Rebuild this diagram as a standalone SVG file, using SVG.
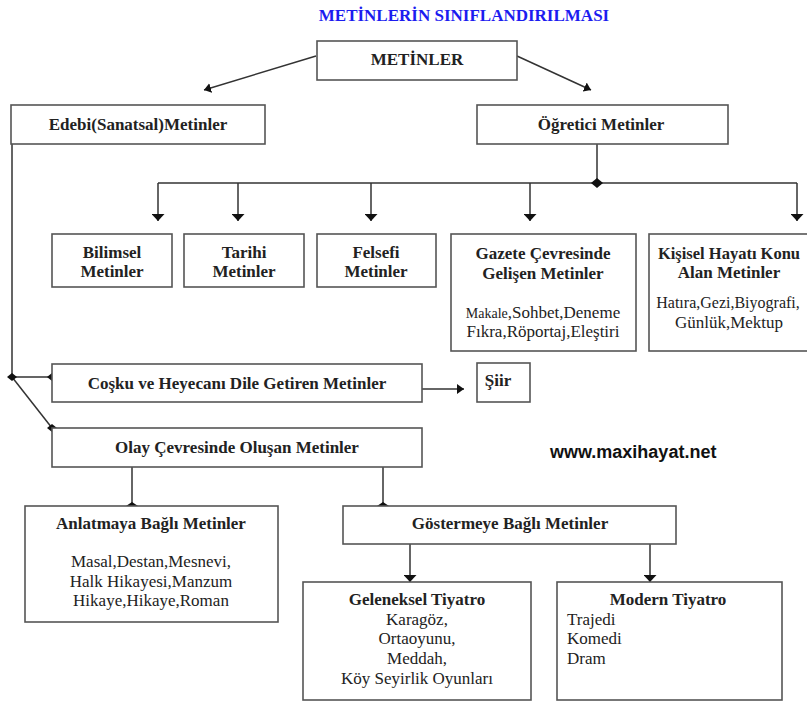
<svg xmlns="http://www.w3.org/2000/svg" width="807" height="702" viewBox="0 0 807 702">
<defs>
<style>
.box{fill:#fff;stroke:#555;stroke-width:1.6}
.ln{fill:none;stroke:#333;stroke-width:1.5}
.t{font-family:"Liberation Serif","Times New Roman",serif;font-size:17px;fill:#222}
.b{font-weight:bold}
.c{text-anchor:middle}
.dot{fill:#111}
</style>
<marker id="ah" viewBox="0 0 7 13" refX="7" refY="6.5" markerWidth="7" markerHeight="13" markerUnits="userSpaceOnUse" orient="auto">
<path d="M0,0 L7,6.5 L0,13 z" fill="#111"/>
</marker>
<marker id="ahs" viewBox="0 0 7 10" refX="7" refY="5" markerWidth="7" markerHeight="10" markerUnits="userSpaceOnUse" orient="auto">
<path d="M0,0 L7,5 L0,10 z" fill="#111"/>
</marker>
</defs>
<rect width="807" height="702" fill="#fff"/>
<text x="464" y="21" class="t b c" style="fill:#1c1cf0">METİNLERİN SINIFLANDIRILMASI</text>

<g id="connectors">
<line class="ln" x1="316" y1="56" x2="204" y2="90" marker-end="url(#ahs)"/>
<line class="ln" x1="517" y1="56" x2="591" y2="90" marker-end="url(#ahs)"/>
<polyline class="ln" points="597,144 597,183"/>
<polyline class="ln" points="158,183 797,183"/>
<line class="ln" x1="158" y1="183" x2="158" y2="221" marker-end="url(#ah)"/>
<line class="ln" x1="238" y1="183" x2="238" y2="221" marker-end="url(#ah)"/>
<line class="ln" x1="371" y1="183" x2="371" y2="221" marker-end="url(#ah)"/>
<line class="ln" x1="530" y1="183" x2="530" y2="221" marker-end="url(#ah)"/>
<line class="ln" x1="797" y1="183" x2="797" y2="221" marker-end="url(#ah)"/>
<polygon class="dot" points="597,178 603,183 597,188 591,183"/>
<polyline class="ln" points="12,144 12,377 52,377"/>
<line class="ln" x1="12" y1="377" x2="52" y2="428"/>
<polygon class="dot" points="12,373 17,377 12,381 7,377"/>
<polygon class="dot" points="52,373 57,377 52,381 47,377"/>
<polygon class="dot" points="52,424 57,428 52,432 47,428"/>
<line class="ln" x1="422" y1="389" x2="464" y2="389" marker-end="url(#ahs)"/>
<line class="ln" x1="132" y1="467" x2="132" y2="506"/>
<polygon class="dot" points="132,502 138,506 132,510 126,506"/>
<line class="ln" x1="383" y1="467" x2="383" y2="506"/>
<polygon class="dot" points="383,502 389,506 383,510 377,506"/>
<line class="ln" x1="410" y1="544" x2="410" y2="582" marker-end="url(#ah)"/>
<line class="ln" x1="650" y1="544" x2="650" y2="582" marker-end="url(#ah)"/>
</g>

<g id="metinler"><rect class="box" x="317" y="41" width="200" height="39"/><text x="417" y="65" class="t b c">METİNLER</text></g>
<g id="edebi"><rect class="box" x="11" y="105" width="254" height="39"/><text x="138" y="130" class="t b c">Edebi(Sanatsal)Metinler</text></g>
<g id="ogretici"><rect class="box" x="477" y="105" width="251" height="39"/><text x="601" y="130" class="t b c">Öğretici Metinler</text></g>

<g id="bilimsel"><rect class="box" x="52" y="234" width="120" height="53"/><text x="112" y="258" class="t b c">Bilimsel</text><text x="112" y="277" class="t b c">Metinler</text></g>
<g id="tarihi"><rect class="box" x="184" y="234" width="120" height="53"/><text x="244" y="258" class="t b c">Tarihi</text><text x="244" y="277" class="t b c">Metinler</text></g>
<g id="felsefi"><rect class="box" x="317" y="234" width="119" height="53"/><text x="376" y="258" class="t b c">Felsefi</text><text x="376" y="277" class="t b c">Metinler</text></g>
<g id="gazete"><rect class="box" x="451" y="234" width="185" height="117"/>
<text x="543" y="259" class="t b c">Gazete Çevresinde</text><text x="543" y="279" class="t b c">Gelişen Metinler</text>
<text x="543" y="318" class="t c"><tspan style="font-size:14px">Makale</tspan>,Sohbet,Deneme</text>
<text x="543" y="337" class="t c">Fıkra,Röportaj,Eleştiri</text></g>
<g id="kisisel"><rect class="box" x="649" y="234" width="166" height="117"/>
<text x="729" y="259" class="t b c" style="font-size:16.5px">Kişisel Hayatı Konu</text><text x="729" y="278" class="t b c">Alan Metinler</text>
<text x="728" y="308" class="t c" style="font-size:16px">Hatıra,Gezi,Biyografi,</text><text x="729" y="328" class="t c">Günlük,Mektup</text></g>

<g id="cosku"><rect class="box" x="52" y="364" width="370" height="38"/><text x="237" y="389" class="t b c">Coşku ve Heyecanı Dile Getiren Metinler</text></g>
<g id="siir"><rect class="box" x="477" y="363" width="53" height="39"/><text x="498" y="386" class="t b c">Şiir</text></g>
<g id="olay"><rect class="box" x="52" y="428" width="370" height="39"/><text x="237" y="453" class="t b c">Olay Çevresinde Oluşan Metinler</text></g>
<text x="550" y="458" style="font-family:'Liberation Sans',Arial,sans-serif;font-weight:bold;font-size:18px;fill:#111">www.maxihayat.net</text>

<g id="anlatmaya"><rect class="box" x="25" y="506" width="253" height="116"/>
<text x="151" y="529" class="t b c">Anlatmaya Bağlı Metinler</text>
<text x="151" y="567" class="t c">Masal,Destan,Mesnevi,</text>
<text x="151" y="587" class="t c">Halk Hikayesi,Manzum</text>
<text x="151" y="606" class="t c">Hikaye,Hikaye,Roman</text></g>
<g id="gostermeye"><rect class="box" x="343" y="506" width="333" height="38"/><text x="510" y="529" class="t b c">Göstermeye Bağlı Metinler</text></g>
<g id="geleneksel"><rect class="box" x="303" y="582" width="228" height="118"/>
<text x="417" y="605" class="t b c">Geleneksel Tiyatro</text>
<text x="417" y="625" class="t c">Karagöz,</text>
<text x="417" y="644" class="t c">Ortaoyunu,</text>
<text x="417" y="664" class="t c">Meddah,</text>
<text x="417" y="684" class="t c">Köy Seyirlik Oyunları</text></g>
<g id="modern"><rect class="box" x="557" y="582" width="225" height="118"/>
<text x="668" y="605" class="t b c">Modern Tiyatro</text>
<text x="567" y="625" class="t">Trajedi</text>
<text x="567" y="644" class="t">Komedi</text>
<text x="567" y="664" class="t">Dram</text></g>
</svg>
